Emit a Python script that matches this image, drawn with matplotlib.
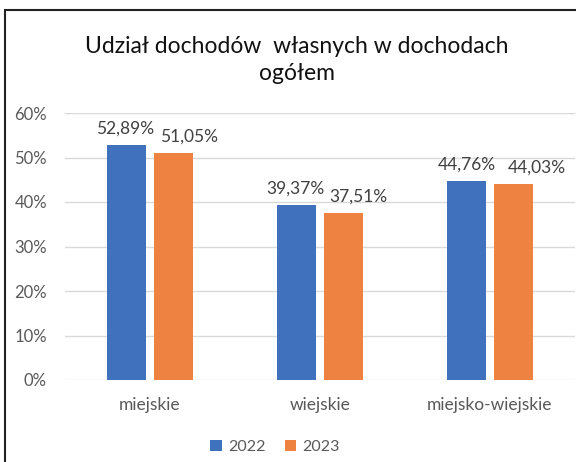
import matplotlib.pyplot as plt
import numpy as np
from matplotlib.ticker import FuncFormatter
from matplotlib.patches import Rectangle

categories = ["miejskie", "wiejskie", "miejsko-wiejskie"]
years = ["2022", "2023"]
share_2022 = [52.89, 39.37, 44.76]
share_2023 = [51.05, 37.51, 44.03]
y_ticks = [0, 10, 20, 30, 40, 50, 60]

# label nudges (points) so neighbouring labels don't collide, like Excel does
nudge_2022 = [-1, -1, 0]
nudge_2023 = [11, 11, 17]

plt.rcParams['font.family'] = ['Lato', 'DejaVu Sans']

fig = plt.figure(figsize=(5.76, 4.62), dpi=100)
ax = fig.add_axes([65 / 576, 82 / 462, 510 / 576, 267 / 462])

x = np.arange(len(categories))
w = 0.23
off = 0.138
colors = ["#3F71BD", "#EE8240"]
for vals, sign, col, lab, nudge in [(share_2022, -1, colors[0], years[0], nudge_2022),
                                    (share_2023, 1, colors[1], years[1], nudge_2023)]:
    bars = ax.bar(x + sign * off, vals, width=w, color=col, label=lab, zorder=3)
    for b, v, dx in zip(bars, vals, nudge):
        ax.annotate(f"{v:.2f}%".replace(".", ","),
                    (b.get_x() + b.get_width() / 2, v),
                    xytext=(dx, 6), textcoords="offset points",
                    ha="center", va="bottom", fontsize=12.5, color="#404040")

ax.set_xlim(-0.5, 2.5)
ax.set_ylim(0, 60)
ax.set_yticks(y_ticks)
ax.yaxis.set_major_formatter(FuncFormatter(lambda v, pos: f"{v:.0f}%"))
ax.set_xticks(x)
ax.set_xticklabels(categories)
ax.tick_params(axis="y", length=0, pad=13, labelsize=12, labelcolor="#595959")
ax.tick_params(axis="x", length=0, pad=12, labelsize=12.5, labelcolor="#595959")
ax.grid(axis="y", color="#D9D9D9", linewidth=1, zorder=0)
for s in ax.spines.values():
    s.set_visible(False)

fig.text(297 / 576, 1 - 60 / 462, "Udział dochodów  własnych w dochodach\nogółem",
         ha="center", va="center", fontsize=16.5, color="#111111", linespacing=1.4)

fig.legend(loc="center", bbox_to_anchor=(275 / 576, 1 - 447 / 462), ncol=2,
           frameon=False, fontsize=11.5, handlelength=0.7, handleheight=0.7,
           handletextpad=0.4, columnspacing=1.2, labelcolor="#595959")

fig.patches.append(Rectangle((5 / 576, -0.1), 1.2, 1 - 10 / 462 + 0.1,
                             transform=fig.transFigure, fill=False,
                             edgecolor="#222222", linewidth=1.5))

fig.savefig("out.png", dpi=100)
